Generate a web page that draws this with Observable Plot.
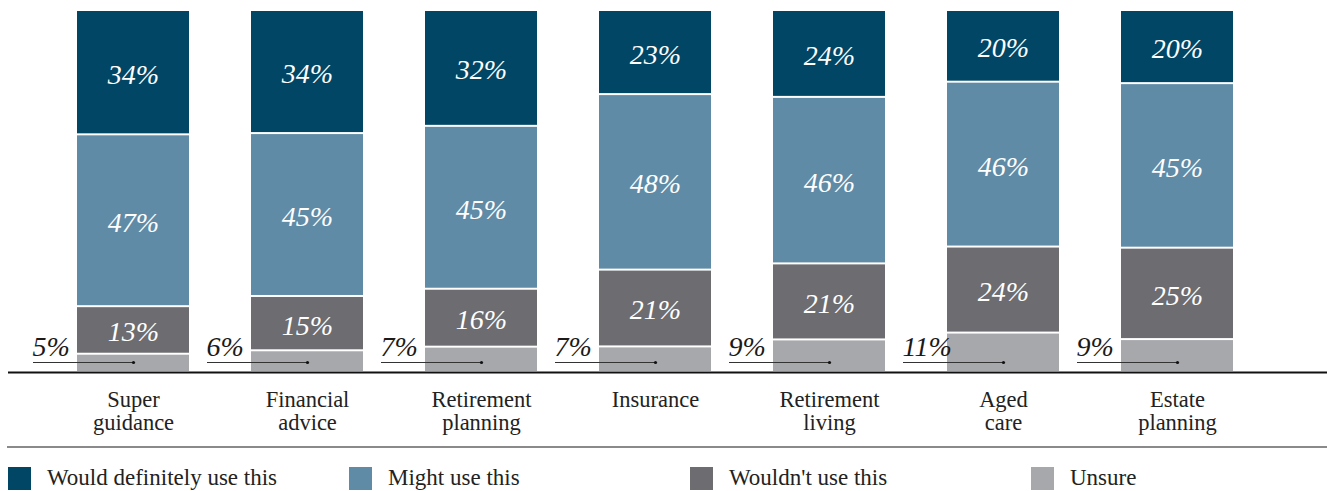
<!DOCTYPE html>
<html>
<head>
<meta charset="utf-8">
<script src="https://cdn.jsdelivr.net/npm/d3@7"></script>
<script src="https://cdn.jsdelivr.net/npm/@observablehq/plot@0.6"></script>
<style>
  html, body { margin: 0; padding: 0; background: #fff; }
  body { width: 1327px; font-family: "Liberation Serif", "Times New Roman", serif; color: #222; overflow: hidden; }
  #chart svg { display: block; }
  .sep { margin-left: 7px; margin-top: 2px; border-top: 2px solid #8a8a8a; height: 0; }
  .legend { display: flex; margin-top: 17px; margin-left: 8px; }
  .item { flex: none; width: 341px; display: flex; align-items: center; font-size: 23px; }
  .item:last-child { width: auto; }
  .sw { width: 23px; height: 23px; margin-right: 16px; flex: none; }
</style>
</head>
<body>
<div id="chart"></div>
<div class="sep"></div>
<div class="legend" id="legend"></div>
<script>
// ---- data ----
const categories = ["Super guidance", "Financial advice", "Retirement planning", "Insurance", "Retirement living", "Aged care", "Estate planning"];
const tickLabels = ["Super\nguidance", "Financial\nadvice", "Retirement\nplanning", "Insurance", "Retirement\nliving", "Aged\ncare", "Estate\nplanning"];
// stacked bottom to top
const series = ["Unsure", "Wouldn't use this", "Might use this", "Would definitely use this"];
const unsure = [5, 6, 7, 7, 9, 11, 9];
const wouldnt = [13, 15, 16, 21, 21, 24, 25];
const might = [47, 45, 45, 48, 46, 46, 45];
const definitely = [34, 34, 32, 23, 24, 20, 20];
const colors = ["#a7a8ac", "#6c6c71", "#608ba6", "#014665"];
const legendOrder = ["Would definitely use this", "Might use this", "Wouldn't use this", "Unsure"];

const valuesBySeries = [unsure, wouldnt, might, definitely];
const rows = [];
series.forEach((s, si) => {
  categories.forEach((c, ci) => rows.push({cat: c, series: s, value: valuesBySeries[si][ci]}));
});
const unsureRows = rows.filter(d => d.series === "Unsure");

const font = '"Liberation Serif", "Times New Roman", serif';

const chart = Plot.plot({
  width: 1327,
  height: 444,
  marginTop: 10,
  marginBottom: 72,
  marginLeft: 8,
  marginRight: 0,
  style: {fontFamily: font, background: "#fff"},
  x: {type: "band", domain: categories, paddingInner: 0.359, paddingOuter: 0.455, align: 0.42, axis: null},
  y: {axis: null},
  color: {domain: series, range: colors},
  marks: [
    Plot.barY(rows, Plot.stackY({x: "cat", y: "value", fill: "series", offset: "normalize", insetTop: 1, insetBottom: 1})),
    Plot.text(rows, Plot.stackY({
      x: "cat", y: "value", offset: "normalize",
      text: d => d.series === "Unsure" ? null : `${d.value}%`,
      fill: "white", fontSize: 28, fontStyle: "italic", dy: 2
    })),
    Plot.ruleY([0], {stroke: "#111", strokeWidth: 2}),
    Plot.tickY(unsureRows, {x: "cat", y: () => 0, dy: -10, dx: -44, insetRight: 12, stroke: "#333", strokeWidth: 1}),
    Plot.dot(unsureRows, {x: "cat", y: () => 0, dy: -10, r: 1.6, fill: "#111"}),
    Plot.text(unsureRows, {x: "cat", y: () => 0, dy: -17, dx: -101, text: d => `${d.value}%`, textAnchor: "start", lineAnchor: "bottom", fontSize: 28, fontStyle: "italic", fill: "#1a1a1a"}),
    Plot.text(categories, {x: d => d, text: (d, i) => tickLabels[i], frameAnchor: "bottom", lineAnchor: "top", dy: 19, fontSize: 22.5, lineHeight: 1, fill: "#222"})
  ]
});
document.getElementById("chart").append(chart);

const legend = document.getElementById("legend");
legendOrder.forEach(s => {
  const item = document.createElement("div");
  item.className = "item";
  const sw = document.createElement("div");
  sw.className = "sw";
  sw.style.background = colors[series.indexOf(s)];
  const label = document.createElement("span");
  label.textContent = s;
  item.append(sw, label);
  legend.append(item);
});
</script>
</body>
</html>
